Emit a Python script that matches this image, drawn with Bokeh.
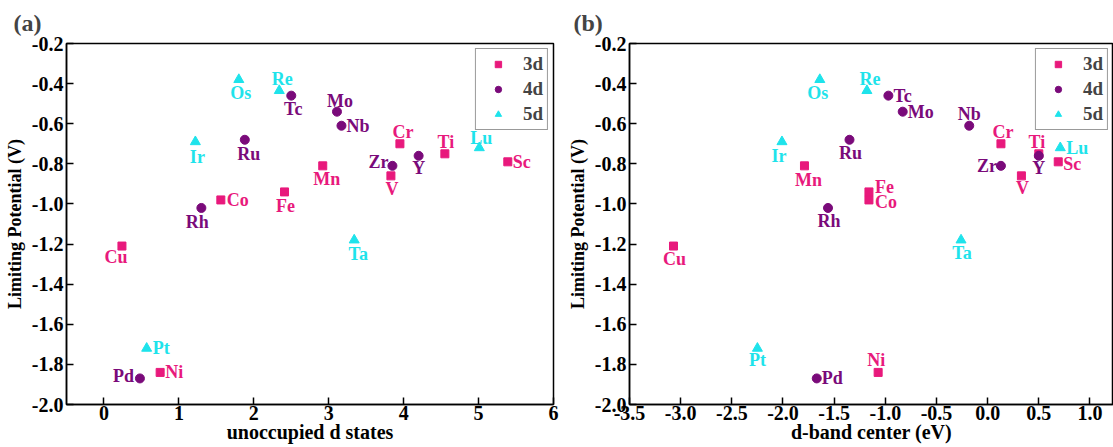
from bokeh.plotting import figure
from bokeh.layouts import row
from bokeh.models import ColumnDataSource, Legend, LegendItem, CustomJSTickFormatter
from bokeh.embed import file_html
from bokeh.resources import INLINE

# ---------------- data ----------------
el_3d = ["Sc", "Ti", "V", "Cr", "Mn", "Fe", "Co", "Ni", "Cu"]
unocc_3d = [5.39, 4.55, 3.83, 3.95, 2.92, 2.41, 1.56, 0.75, 0.24]
dband_3d = [0.69, 0.50, 0.33, 0.13, -1.79, -1.16, -1.16, -1.07, -3.07]
ul_3d = [-0.79, -0.75, -0.86, -0.70, -0.81, -0.94, -0.98, -1.84, -1.21]

el_4d = ["Y", "Zr", "Nb", "Mo", "Tc", "Ru", "Rh", "Pd"]
unocc_4d = [4.20, 3.85, 3.17, 3.11, 2.50, 1.88, 1.30, 0.48]
dband_4d = [0.50, 0.13, -0.18, -0.83, -0.97, -1.35, -1.56, -1.67]
ul_4d = [-0.76, -0.81, -0.61, -0.54, -0.46, -0.68, -1.02, -1.87]

el_5d = ["Lu", "Ta", "Re", "Os", "Ir", "Pt"]
unocc_5d = [5.01, 3.34, 2.34, 1.80, 1.22, 0.57]
dband_5d = [0.71, -0.26, -1.18, -1.64, -2.01, -2.25]
ul_5d = [-0.72, -1.18, -0.435, -0.38, -0.69, -1.72]

series_names = ["3d", "4d", "5d"]
x_ticks_a = [0, 1, 2, 3, 4, 5, 6]
x_ticks_b = [-3.5, -3.0, -2.5, -2.0, -1.5, -1.0, -0.5, 0.0, 0.5, 1.0]
y_ticks = [-2.0, -1.8, -1.6, -1.4, -1.2, -1.0, -0.8, -0.6, -0.4, -0.2]

# ---------------- label placement (screen px: dx, dy-down, align) ----------------
lab_a = {
    "Sc": (5, 0, "left"), "Ti": (1, -12, "center"), "V": (1, 13, "center"),
    "Cr": (3, -12, "center"), "Mn": (4, 13, "center"), "Fe": (1, 14, "center"),
    "Co": (6, 0, "left"), "Ni": (5, 0, "left"), "Cu": (-6, 11, "center"),
    "Y": (0, 12, "center"), "Zr": (-4, -4, "right"), "Nb": (5, 0, "left"),
    "Mo": (3, -11, "center"), "Tc": (2, 13, "center"), "Ru": (4, 14, "center"),
    "Rh": (-4, 14, "center"), "Pd": (-6, -2, "right"), "Lu": (2, -10, "center"),
    "Ta": (4, 14, "center"), "Re": (3, -12, "center"), "Os": (2, 13, "center"),
    "Ir": (2, 15, "center"), "Pt": (6, 0, "left"),
}
lab_b = {
    "Sc": (5, 2, "left"), "Ti": (-2, -12, "center"), "V": (1, 12, "center"),
    "Cr": (2, -12, "center"), "Mn": (4, 14, "center"), "Fe": (6, -5, "left"),
    "Co": (6, 2, "left"), "Ni": (-2, -12, "center"), "Cu": (1, 13, "center"),
    "Y": (0, 12, "center"), "Zr": (-4, 0, "right"), "Nb": (0, -12, "center"),
    "Mo": (5, 0, "left"), "Tc": (5, 0, "left"), "Ru": (1, 13, "center"),
    "Rh": (1, 13, "center"), "Pd": (5, 0, "left"), "Lu": (6, 0, "left"),
    "Ta": (1, 13, "center"), "Re": (3, -12, "center"), "Os": (-2, 13, "center"),
    "Ir": (-3, 14, "center"), "Pt": (0, 12, "center"),
}

COL = {"3d": "#E8197C", "4d": "#7A0A7A", "5d": "#1EE3EB"}
MARK = {"3d": "square", "4d": "circle", "5d": "triangle"}
SIZE = {"3d": 8, "4d": 9, "5d": 10}
FONT = "Liberation Serif"


def make_panel(xs_by, xrange, title, xlabel, labpos, width, bl, br, ticks):
    p = figure(width=width, height=447, x_range=xrange, y_range=(-2.0, -0.2),
               output_backend="svg", toolbar_location=None,
               min_border_left=bl, min_border_right=br,
               min_border_top=41, min_border_bottom=43)
    p.grid.visible = False
    p.outline_line_color = "black"
    p.outline_line_width = 1.5
    p.background_fill_color = "white"
    p.border_fill_color = "white"

    p.title.text = title
    p.title.text_font = FONT
    p.title.text_font_size = "24px"
    p.title.text_font_style = "bold"
    p.title.align = "left"
    p.title.offset = -(bl - 13)
    p.title.standoff = 15

    items = []
    ys_by = {"3d": ul_3d, "4d": ul_4d, "5d": ul_5d}
    els_by = {"3d": el_3d, "4d": el_4d, "5d": el_5d}
    for s in series_names:
        els = els_by[s]
        src = ColumnDataSource(dict(
            x=xs_by[s], y=ys_by[s], t=els,
            dx=[labpos[e][0] for e in els],
            dy=[labpos[e][1] for e in els],
            al=[labpos[e][2] for e in els],
        ))
        r = p.scatter("x", "y", source=src, marker=MARK[s], size=SIZE[s],
                      fill_color=COL[s], line_color=COL[s])
        p.text("x", "y", text="t", source=src, x_offset="dx", y_offset="dy",
               text_align="al", text_baseline="middle",
               text_color=COL[s], text_font=FONT, text_font_size="18px",
               text_font_style="bold")
        items.append(LegendItem(label=s, renderers=[r]))

    leg = Legend(items=items, location="top_right")
    leg.label_text_font = FONT
    leg.label_text_font_size = "19px"
    leg.label_text_font_style = "bold"
    leg.label_text_line_height = 0.9
    leg.border_line_color = "#333333"
    leg.border_line_width = 1.2
    leg.padding = 4
    leg.spacing = 3
    leg.glyph_width = 36
    leg.glyph_height = 16
    leg.label_height = 16
    leg.label_standoff = 7
    leg.margin = 5
    p.add_layout(leg)

    for ax in (p.xaxis[0], p.yaxis[0]):
        ax.axis_line_width = 1.5
        ax.major_tick_in = 7
        ax.major_tick_out = 0
        ax.minor_tick_in = 4
        ax.minor_tick_out = 0
        ax.major_tick_line_width = 1.5
        ax.minor_tick_line_width = 1.2
        ax.major_label_text_font = FONT
        ax.major_label_text_font_size = "20px"
        ax.major_label_text_font_style = "bold"
        ax.major_label_text_color = "black"
        ax.axis_label_text_font = FONT
        ax.axis_label_text_font_style = "bold"
        ax.axis_label_text_color = "black"
    p.xaxis.ticker = ticks
    p.xaxis.ticker.num_minor_ticks = 2
    p.xaxis.axis_label = xlabel
    p.xaxis.axis_label_text_font_size = "20px"
    p.xaxis.major_label_standoff = 1
    p.xaxis.axis_label_standoff = -2
    p.yaxis.ticker = y_ticks
    p.yaxis.ticker.num_minor_ticks = 2
    p.yaxis.axis_label = "Limiting Potential (V)"
    p.yaxis.axis_label_text_font_size = "18px"
    p.yaxis.major_label_standoff = 3
    p.yaxis.axis_label_standoff = 4
    p.xaxis.formatter = CustomJSTickFormatter(
        code="return Number.isInteger(tick) && %s ? tick.toFixed(0) : tick.toFixed(1);"
        % ("true" if title == "(a)" else "false"))
    p.yaxis.formatter = CustomJSTickFormatter(code="return tick.toFixed(1);")
    return p


pa = make_panel({"3d": unocc_3d, "4d": unocc_4d, "5d": unocc_5d}, (-0.5, 6.0),
                "(a)", "unoccupied d states", lab_a, 560, 66, 7, x_ticks_a)
pb = make_panel({"3d": dband_3d, "4d": dband_4d, "5d": dband_5d}, (-3.5, 1.23),
                "(b)", "d-band center (eV)", lab_b, 553, 69, 0, x_ticks_b)

layout = row(pa, pb)
open("out.html", "w").write(file_html(layout, INLINE))
